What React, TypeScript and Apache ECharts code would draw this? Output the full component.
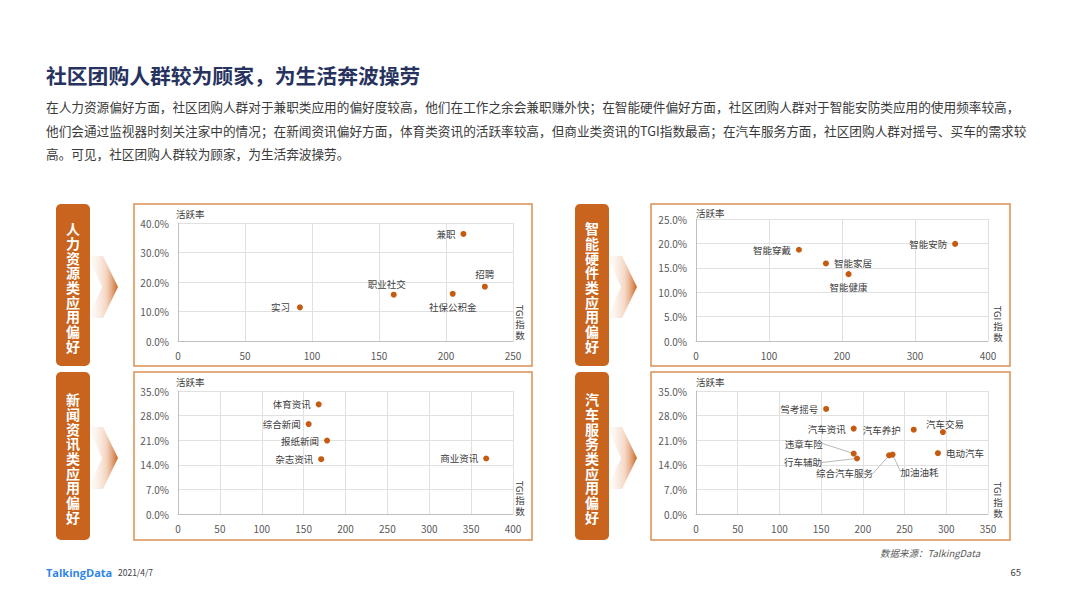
import React, { useEffect, useRef } from "react";
import * as echarts from "echarts";

// ---------- text ----------
const titleText = "社区团购人群较为顾家，为生活奔波操劳";
const paragraphLines = [
  "在人力资源偏好方面，社区团购人群对于兼职类应用的偏好度较高，他们在工作之余会兼职赚外快；在智能硬件偏好方面，社区团购人群对于智能安防类应用的使用频率较高，",
  "他们会通过监视器时刻关注家中的情况；在新闻资讯偏好方面，体育类资讯的活跃率较高，但商业类资讯的TGI指数最高；在汽车服务方面，社区团购人群对摇号、买车的需求较",
  "高。可见，社区团购人群较为顾家，为生活奔波操劳。",
];
const sideLabels = ["人力资源类应用偏好", "智能硬件类应用偏好", "新闻资讯类应用偏好", "汽车服务类应用偏好"];
const yAxisTitle = "活跃率";
const xAxisTitleLatin = "TGI";
const xAxisTitleCJK = "指\n数";
const sourceText = "数据来源：TalkingData";
const logoText = "TalkingData";
const dateText = "2021/4/7";
const pageNo = "65";

// ---------- data ----------
// 人力资源
const hrNames = ["兼职", "招聘", "职业社交", "社保公积金", "实习"];
const hrTGI = [213, 229, 161, 205, 91];
const hrRate = [36.3, 18.4, 15.7, 16.0, 11.4];
const hrXTicks = { max: 250, interval: 50 };
const hrYTicks = { max: 40, interval: 10 };

// 智能硬件
const hwNames = ["智能安防", "智能穿戴", "智能家居", "智能健康"];
const hwTGI = [355, 141, 178, 209];
const hwRate = [19.9, 18.7, 15.9, 13.7];
const hwXTicks = { max: 400, interval: 100 };
const hwYTicks = { max: 25, interval: 5 };

// 新闻资讯
const newsNames = ["体育资讯", "综合新闻", "报纸新闻", "杂志资讯", "商业资讯"];
const newsTGI = [168, 156, 178, 171, 368];
const newsRate = [31.2, 25.6, 20.9, 15.6, 15.8];
const newsXTicks = { max: 400, interval: 50 };
const newsYTicks = { max: 35, interval: 7 };

// 汽车服务
const carNames = ["驾考摇号", "汽车资讯", "汽车养护", "汽车交易", "电动汽车", "违章车险", "行车辅助", "综合汽车服务", "加油油耗"];
const carTGI = [156, 189, 261, 296, 290, 189, 193, 231.5, 235.6];
const carRate = [29.9, 24.3, 24.0, 23.3, 17.3, 17.2, 15.8, 16.7, 16.9];
const carXTicks = { max: 350, interval: 50 };
const carYTicks = { max: 35, interval: 7 };

// ---------- styling / placement ----------
type Place = { pos: string; dx?: number; dy?: number; line?: boolean; dist?: number };
const hrPlace: Place[] = [
  { pos: "left" },
  { pos: "top" },
  { pos: "top", dx: -7, dy: 2 },
  { pos: "bottom" },
  { pos: "left", dist: 7 },
];
const hwPlace: Place[] = [{ pos: "left" }, { pos: "left" }, { pos: "right" }, { pos: "bottom" }];
const newsPlace: Place[] = [{ pos: "left" }, { pos: "left" }, { pos: "left" }, { pos: "left" }, { pos: "left" }];
const carPlace: Place[] = [
  { pos: "left" },
  { pos: "left" },
  { pos: "left", dist: 10 },
  { pos: "top", dx: 2, dy: 5 },
  { pos: "right" },
  { pos: "left", dx: -23, dy: -10, line: true },
  { pos: "left", dx: -27, dy: 4, line: true },
  { pos: "left", dx: -8, dy: 18, line: true },
  { pos: "right", dx: 0, dy: 17, line: true },
];

const FONT = '"Noto Sans CJK SC", "Microsoft YaHei", sans-serif';
const ORANGE = "#c8641e";
const DOT = "#c55a11";
const BORDER = "#dc8f52";

const panels = [
  {
    names: hrNames, xs: hrTGI, ys: hrRate, xt: hrXTicks, yt: hrYTicks, place: hrPlace,
    grid: { left: 178, top: 223, width: 335, height: 118 },
    box: { x: 134, y: 204, w: 398, h: 162 }, side: { x: 56, y: 204, w: 34, h: 162 },
    yTitle: { x: 176, y: 214 }, tgi: { x: 520, y: 312, y2: 329 },
  },
  {
    names: hwNames, xs: hwTGI, ys: hwRate, xt: hwXTicks, yt: hwYTicks, place: hwPlace,
    grid: { left: 696, top: 219, width: 292, height: 122 },
    box: { x: 651, y: 204, w: 359, h: 162 }, side: { x: 575, y: 204, w: 34, h: 162 },
    yTitle: { x: 696, y: 213 }, tgi: { x: 998, y: 313, y2: 331 },
  },
  {
    names: newsNames, xs: newsTGI, ys: newsRate, xt: newsXTicks, yt: newsYTicks, place: newsPlace,
    grid: { left: 178, top: 391, width: 335, height: 123 },
    box: { x: 134, y: 372, w: 398, h: 168 }, side: { x: 56, y: 372, w: 34, h: 168 },
    yTitle: { x: 176, y: 382 }, tgi: { x: 520, y: 488, y2: 505 },
  },
  {
    names: carNames, xs: carTGI, ys: carRate, xt: carXTicks, yt: carYTicks, place: carPlace,
    grid: { left: 696, top: 391, width: 292, height: 123 },
    box: { x: 651, y: 372, w: 359, h: 168 }, side: { x: 575, y: 372, w: 34, h: 168 },
    yTitle: { x: 696, y: 382 }, tgi: { x: 998, y: 489, y2: 507 },
  },
];

function buildOption(): any {
  const grids: any[] = [];
  const xAxes: any[] = [];
  const yAxes: any[] = [];
  const series: any[] = [];
  const graphics: any[] = [];

  // title + paragraph
  graphics.push({
    type: "text", x: 46, y: 75,
    style: { text: titleText, fontSize: 20.8, fontWeight: "bold", fill: "#27325f", fontFamily: FONT, verticalAlign: "middle" },
  });
  const lineYs = [106, 130, 153];
  paragraphLines.forEach((t, i) => {
    graphics.push({
      type: "text", x: 46, y: lineYs[i],
      style: { text: t, fontSize: 12.65, fill: "#3a3a3a", fontFamily: FONT, verticalAlign: "middle" },
    });
  });

  panels.forEach((p, i) => {
    grids.push({ ...p.grid, containLabel: false });
    xAxes.push({
      type: "value", gridIndex: i, min: 0, max: p.xt.max, interval: p.xt.interval,
      axisLine: { show: true, lineStyle: { color: "#bfbfbf" } },
      axisTick: { show: false },
      splitLine: { show: true, lineStyle: { color: "#e1e1e1" } },
      axisLabel: { color: "#595959", fontSize: 10, margin: 9, fontFamily: FONT },
    });
    yAxes.push({
      type: "value", gridIndex: i, min: 0, max: p.yt.max, interval: p.yt.interval,
      axisLine: { show: true, lineStyle: { color: "#bfbfbf" } },
      axisTick: { show: false },
      splitLine: { show: true, lineStyle: { color: "#e1e1e1" } },
      axisLabel: {
        color: "#595959", fontSize: 10, margin: 9, fontFamily: FONT,
        formatter: (v: number) => v.toFixed(1) + "%",
      },
    });
    const place = p.place;
    series.push({
      type: "scatter", xAxisIndex: i, yAxisIndex: i,
      symbolSize: 6,
      itemStyle: { color: DOT, opacity: 1 },
      label: { show: true, formatter: "{b}", color: "#404040", fontSize: 9.5, fontFamily: FONT },
      labelLine: { show: false, lineStyle: { color: "#a6a6a6", width: 0.8 } },
      labelLayout: (params: any) => {
        const pl = place[params.dataIndex];
        return { dx: pl.dx || 0, dy: pl.dy || 0 };
      },
      data: p.names.map((n, k) => ({
        name: n,
        value: [p.xs[k], p.ys[k]],
        label: { position: place[k].pos, distance: place[k].dist ?? 5 },
        labelLine: { show: !!place[k].line, lineStyle: { color: "#a6a6a6", width: 0.8 } },
      })),
    });

    // panel box
    graphics.push({
      type: "rect", shape: { x: p.box.x, y: p.box.y, width: p.box.w, height: p.box.h },
      style: { fill: "none", stroke: BORDER, lineWidth: 1.5 }, z: -1,
    });
    // side label
    graphics.push({
      type: "rect", shape: { x: p.side.x, y: p.side.y, width: p.side.w, height: p.side.h, r: 5 },
      style: { fill: ORANGE },
    });
    graphics.push({
      type: "text", x: p.side.x + p.side.w / 2, y: p.side.y + p.side.h / 2 + 2,
      style: {
        text: sideLabels[i].split("").join("\n"), fontSize: 14, lineHeight: 14.7, fontWeight: "bold",
        fill: "#ffffff", fontFamily: FONT, align: "center", verticalAlign: "middle",
      },
    });
    // chevron
    const cx = p.side.x + p.side.w + 28;
    const cy = p.side.y + p.side.h / 2 + 2;
    graphics.push({
      type: "polygon",
      shape: { points: [[cx - 30, cy - 31], [cx - 15, cy - 31], [cx, cy], [cx - 15, cy + 31], [cx - 30, cy + 31], [cx - 16, cy]] },
      style: {
        fill: new echarts.graphic.LinearGradient(0, 0, 1, 0, [
          { offset: 0, color: "rgba(248,225,210,0)" },
          { offset: 0.6, color: "rgba(236,180,145,0.55)" },
          { offset: 1, color: ORANGE },
        ]),
      },
    });
    // axis titles
    graphics.push({
      type: "text", x: p.yTitle.x, y: p.yTitle.y,
      style: { text: yAxisTitle, fontSize: 9.5, fill: "#404040", fontFamily: FONT, verticalAlign: "middle" },
    });
    graphics.push({
      type: "text", x: p.tgi.x, y: p.tgi.y, rotation: -Math.PI / 2,
      style: { text: xAxisTitleLatin, fontSize: 9.5, fill: "#404040", fontFamily: FONT, align: "center", verticalAlign: "middle" },
    });
    graphics.push({
      type: "text", x: p.tgi.x, y: p.tgi.y2,
      style: { text: xAxisTitleCJK, fontSize: 9.5, lineHeight: 11, fill: "#404040", fontFamily: FONT, align: "center", verticalAlign: "middle" },
    });
  });

  // footer
  graphics.push({
    type: "text", x: 980, y: 553,
    style: { text: sourceText, fontSize: 9.5, fontStyle: "italic", fill: "#595959", fontFamily: FONT, align: "right", verticalAlign: "middle" },
  });
  graphics.push({
    type: "text", x: 46, y: 572,
    style: { text: logoText, fontSize: 11, fontWeight: "bold", fill: "#2f86e8", fontFamily: '"Open Sans", sans-serif', verticalAlign: "middle" },
  });
  graphics.push({
    type: "text", x: 118, y: 572,
    style: { text: dateText, fontSize: 8.5, fill: "#404040", fontFamily: FONT, verticalAlign: "middle" },
  });
  graphics.push({
    type: "text", x: 1021, y: 572,
    style: { text: pageNo, fontSize: 9.5, fill: "#404040", fontFamily: FONT, align: "right", verticalAlign: "middle" },
  });

  return {
    animation: false,
    backgroundColor: "#ffffff",
    textStyle: { fontFamily: FONT },
    grid: grids,
    xAxis: xAxes,
    yAxis: yAxes,
    series,
    graphic: graphics,
  };
}

export default function App() {
  const ref = useRef<HTMLDivElement | null>(null);
  useEffect(() => {
    document.body.style.margin = "0";
    if (!ref.current) return;
    const chart = echarts.init(ref.current, undefined, { renderer: "svg" });
    chart.setOption(buildOption());
    return () => chart.dispose();
  }, []);
  return <div ref={ref} style={{ position: "absolute", left: 0, top: 0, width: 1066, height: 599 }} />;
}
